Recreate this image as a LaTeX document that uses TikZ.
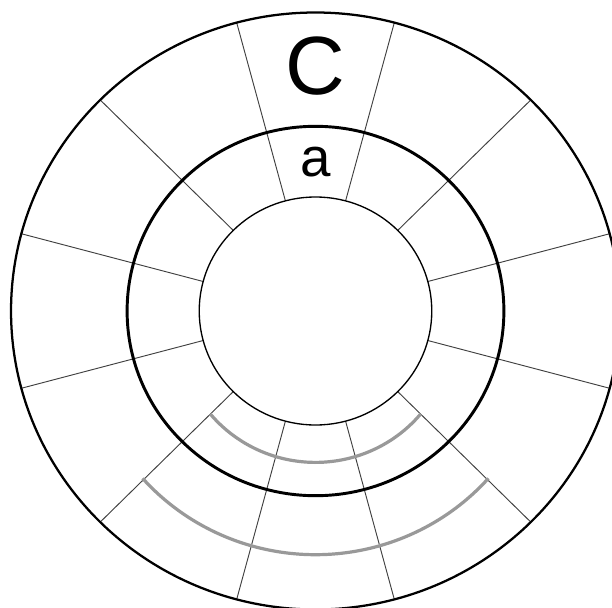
\documentclass[tikz,border=0pt]{standalone}
\usepackage{fontspec}
\setmainfont{Liberation Sans}
\tikzset{
  radial/.style={draw=black!75, line width=0.7pt},
  outerring/.style={draw=black, line width=1.7pt},
  midring/.style={draw=black, line width=2.2pt},
  innerring/.style={draw=black, line width=1.0pt},
  grayarc/.style={draw=black!40, line width=2.4pt},
  lbl/.style={inner sep=0pt, text=black}
}
\begin{document}
\begin{tikzpicture}[x=0.75pt,y=-0.75pt]
\useasboundingbox (0,0) rectangle (612,608);
\clip (0,0) rectangle (612,608);
\fill[white] (0,0) rectangle (612,608);
\begin{scope}[shift={(315.5,311)}, xscale=1.02]
  \foreach \a in {15,45,...,345} \draw[radial] (\a:114) -- (\a:298.5);
  \draw[outerring] (0,0) circle[radius=298.5];
  \draw[midring] (0,0) circle[radius=184.7];
  \draw[innerring] (0,0) circle[radius=114];
\end{scope}
\begin{scope}[shift={(315.5,328.4)}, xscale=1.02]
  \draw[grayarc] (39.7:134) arc[start angle=39.7, end angle=140.3, radius=134];
  \draw[grayarc] (41.5:226.3) arc[start angle=41.5, end angle=138.5, radius=226.3];
\end{scope}
\node[lbl, font=\fontsize{62}{62}\selectfont] (C) at (315.5,66) {C};
\node[lbl, font=\fontsize{41}{41}\selectfont] (a) at (315.5,162.3) {a};
\end{tikzpicture}
\end{document}
